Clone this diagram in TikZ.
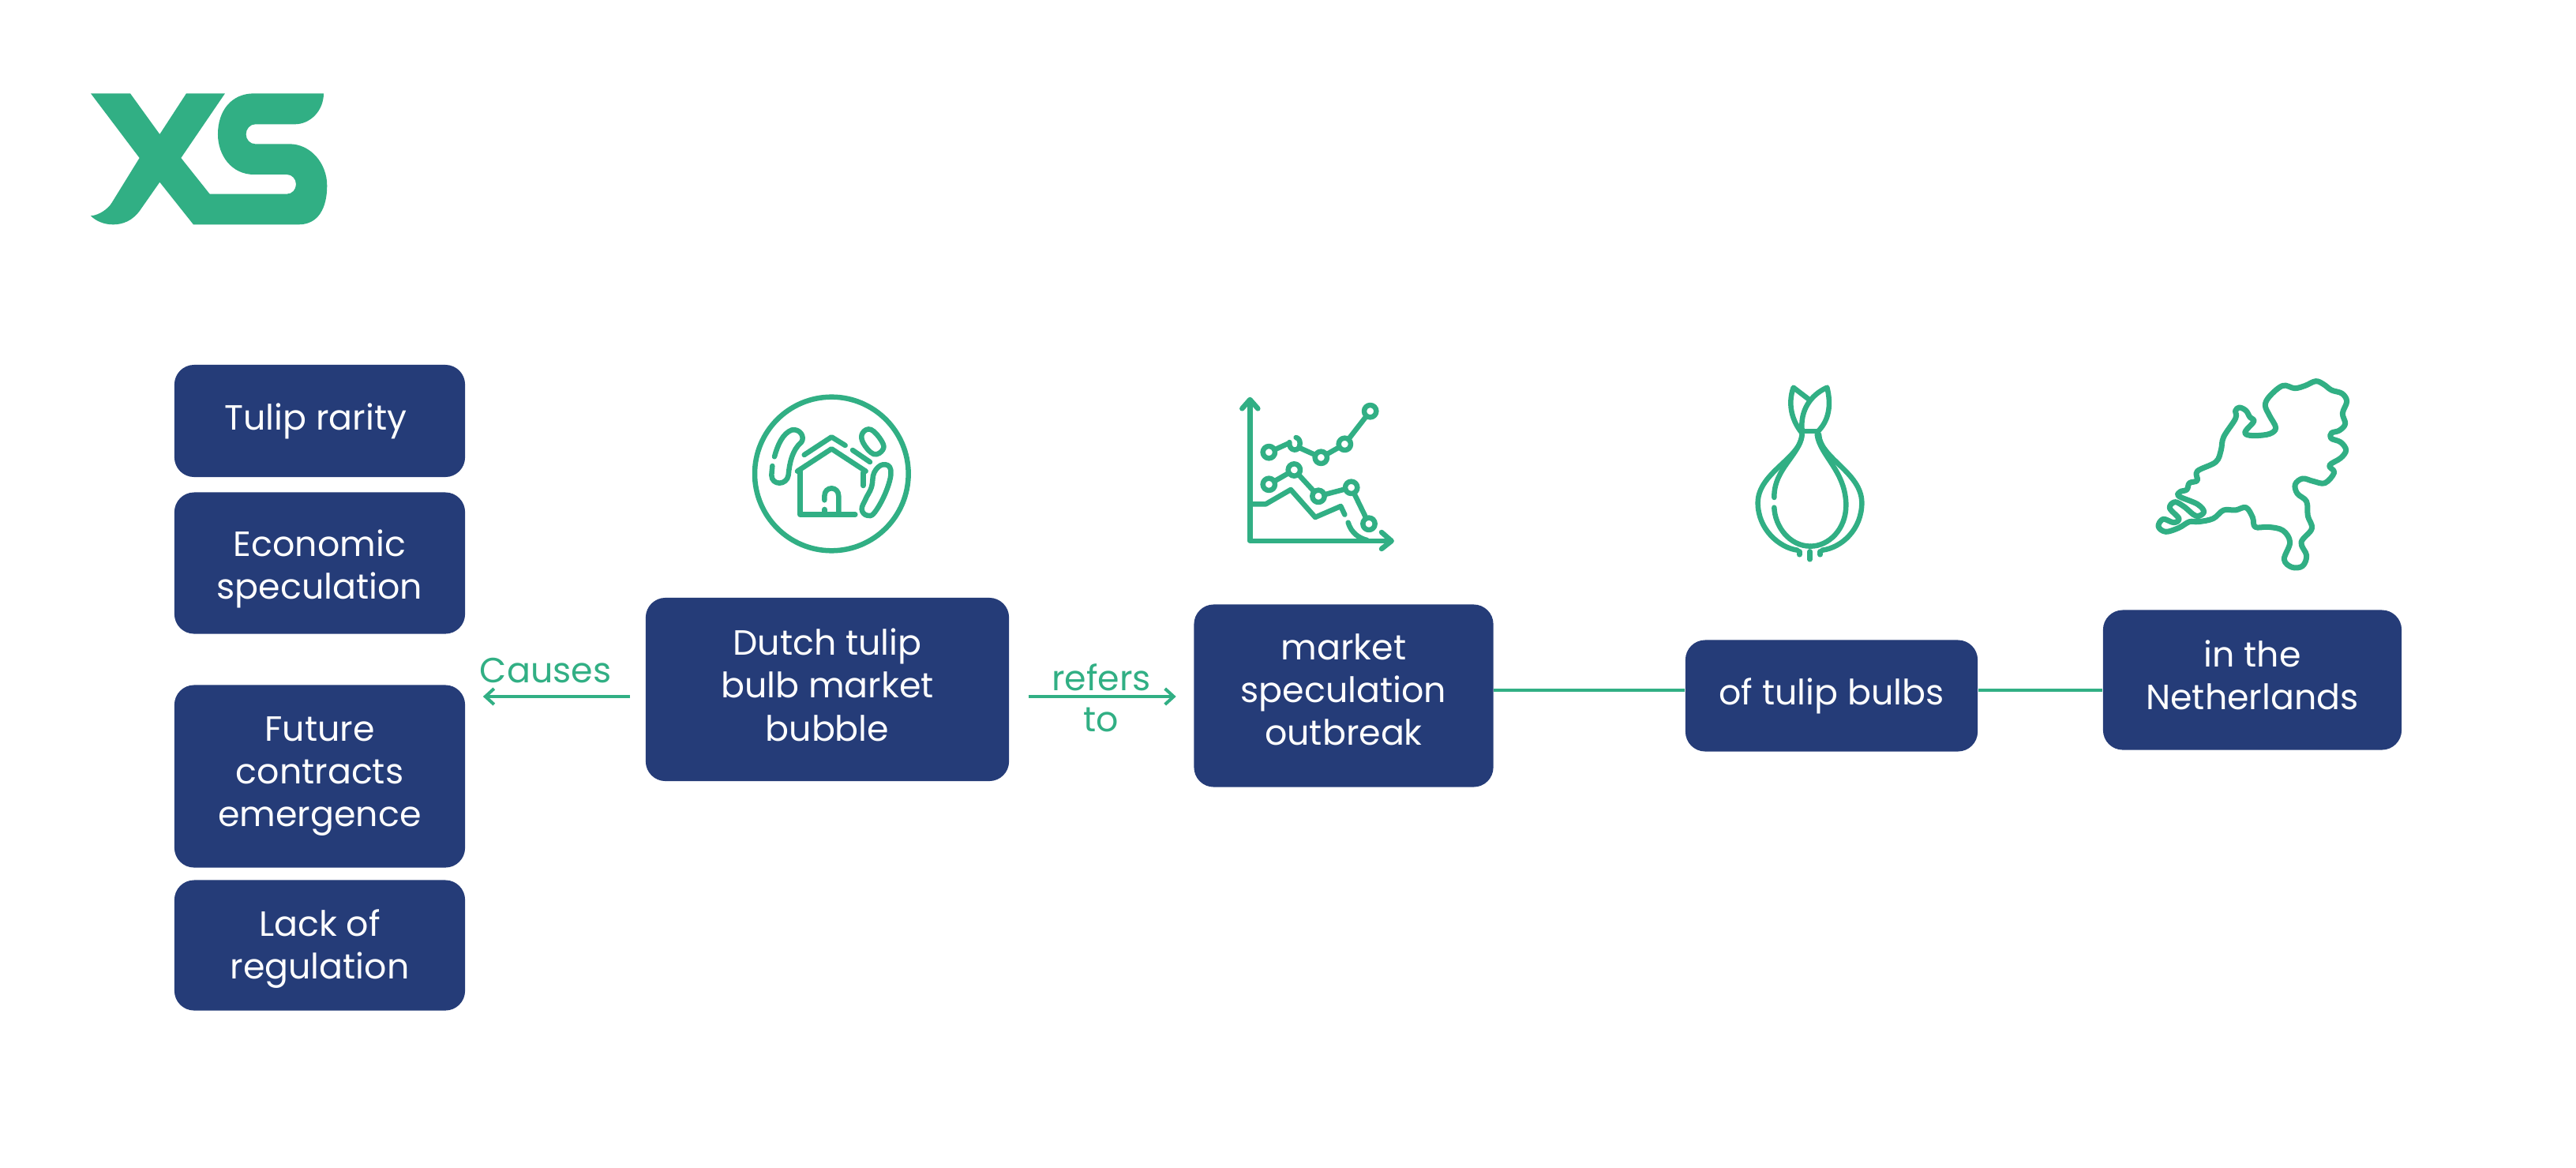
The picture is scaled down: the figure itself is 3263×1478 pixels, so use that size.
\documentclass[tikz,border=0pt]{standalone}
\usepackage{fontspec}
\setmainfont{Poppins}
\usepackage{tikz}
\usetikzlibrary{arrows.meta}
\definecolor{xsgreen}{HTML}{31AF84}
\definecolor{xsnavy}{HTML}{253C78}
\newcommand{\padtop}[1]{\rule{0pt}{#1}}
\newcommand{\padbot}[1]{\rule[-#1]{0pt}{0pt}}
\tikzset{
  navybox/.style={fill=xsnavy, text=white, rounded corners=0.25cm, align=center, inner sep=0pt, minimum width=#1, font=\fontsize{12.6}{15.4}\selectfont},
  greentext/.style={text=xsgreen, align=center, inner sep=0pt, font=\fontsize{12.6}{14.8}\selectfont},
  link/.style={draw=xsgreen, line width=0.04cm},
  flow/.style={link, -{Straight Barb[length=0.11cm,width=0.2cm]}},
  iconline/.style={draw=xsgreen, line width=0.065cm, line cap=round, line join=round}
}

\begin{document}
\begin{tikzpicture}[x=0.01cm, y=-0.01cm]
    \useasboundingbox[fill=white] (0,0) rectangle (3263,1478);

    % logo
    \begin{scope}[shift={(80,80)}, scale=0.3333]
        \fill[xsgreen] (105,115) -- (255,115) -- (367,270) -- (468,115) -- (615,115) -- (448,360) -- (557,497) -- (850,497)
            .. controls (870,497) and (885,480) .. (885,460) .. controls (885,440) and (870,423) .. (850,423) -- (725,423)
            .. controls (640,423) and (588,350) .. (588,270) .. controls (588,180) and (640,115) .. (725,115) -- (990,115)
            .. controls (990,180) and (940,232) .. (880,232) -- (730,232) .. controls (710,232) and (695,250) .. (695,270)
            .. controls (695,290) and (710,307) .. (730,307) -- (860,307) .. controls (940,307) and (1003,380) .. (1003,465)
            .. controls (1003,550) and (970,613) .. (895,613) -- (495,613) -- (367,452) -- (295,555)
            .. controls (265,600) and (225,613) .. (190,613) .. controls (155,613) and (125,600) .. (105,580)
            .. controls (135,578) and (170,555) .. (185,530) -- (290,360) -- cycle;
    \end{scope}

    % boxes
    \node[navybox=3.68cm, minimum height=1.42cm] (tulip) at (405,533) {Tulip rarity\hspace*{0.1cm}};
    \node[navybox=3.68cm, minimum height=1.79cm] (econ) at (405,713) {\padtop{0.49cm}Economic\\speculation};
    \node[navybox=3.68cm, minimum height=2.31cm] (future) at (405,983) {Future\\contracts\\emergence};
    \node[navybox=3.68cm, minimum height=1.65cm] (lack) at (405,1197) {\padtop{0.43cm}Lack of\\regulation};
    \node[navybox=4.6cm, minimum height=2.32cm] (dutch) at (1048,873) {Dutch tulip\\bulb market\\bubble\padbot{0.12cm}};
    \node[navybox=3.79cm, minimum height=2.31cm] (market) at (1702,881) {market\\speculation\\outbreak\padbot{0.16cm}};
    \node[navybox=3.7cm, minimum height=1.41cm] (bulbs) at (2320,881) {of tulip bulbs};
    \node[navybox=3.78cm, minimum height=1.77cm] (nether) at (2853,861) {in the\\Netherlands\padbot{0.12cm}};

    % connectors
    \coordinate (flowlevel) at (0,882);
    \coordinate (linelevel) at (0,874);
    \node[greentext] (causes) at (691,849) {Causes};
    \node[greentext] (refers) at (1395,884) {refers\\to};
    \draw[flow, shorten <=0.19cm, shorten >=0.22cm] (dutch.west |- flowlevel) -- (future.east |- flowlevel);
    \draw[flow, shorten <=0.24cm, shorten >=0.22cm] (dutch.east |- flowlevel) -- (market.west |- flowlevel);
    \draw[link] (market.east |- linelevel) -- (bulbs.west |- linelevel);
    \draw[link] (bulbs.east |- linelevel) -- (nether.west |- linelevel);

    % house icon
    \begin{scope}[shift={(920,470)}, scale=0.3333]
        \draw[iconline] (400,390) circle (292);
        \draw[iconline] (270,380) -- (400,295) -- (530,380);
        \draw[iconline] (280,380) -- (280,545) -- (490,545);
        \draw[iconline] (520,385) -- (520,435);
        \draw[iconline] (373,490) -- (373,475) .. controls (373,435) and (427,435) .. (427,475) -- (427,545);
        \draw[iconline] (373,525) -- (373,545);
        \draw[iconline] (296,318) -- (400,250) -- (452,282);
        \draw[iconline] (480,300) -- (546,345);
        \draw[iconline] (183,325) .. controls (195,280) and (215,235) .. (250,223) .. controls (280,218) and (300,250) .. (285,270) .. controls (250,300) and (240,350) .. (236,395) .. controls (230,435) and (172,435) .. (172,395) -- (175,360);
        \draw[iconline] plot[smooth cycle, tension=0.7] coordinates {(518,235) (550,222) (590,265) (595,298) (560,315) (520,272)};
        \draw[iconline] plot[smooth cycle, tension=0.7] coordinates {(595,355) (625,375) (610,450) (565,535) (535,548) (515,525) (530,485) (552,440) (562,385)};
    \end{scope}

    % chart icon
    \begin{scope}[shift={(1530,480)}, scale=0.3333]
        \draw[iconline] (160,80) -- (160,615) -- (695,615);
        \draw[iconline] (130,112) -- (160,78) -- (190,112);
        \draw[iconline] (660,582) -- (698,615) -- (660,645);
        \draw[iconline] (232,278) -- (305,245);
        \draw[iconline] (310,240) .. controls (305,275) and (350,280) .. (350,245) .. controls (350,232) and (345,225) .. (335,222);
        \draw[iconline] (350,262) -- (430,298) -- (520,247) -- (617,122);
        \draw[iconline] (232,400) -- (328,345) -- (420,445) -- (545,412) -- (612,550);
        \draw[iconline] (165,475) -- (220,475) -- (315,420) -- (408,525) -- (505,483) -- (520,515);
        \draw[iconline] (533,545) .. controls (545,585) and (575,605) .. (605,612);
        \foreach \pt in {(232,278), (430,298), (520,247), (617,122), (232,400), (328,345), (420,445), (545,412), (612,550)}
            \draw[iconline, fill=white] \pt circle (23);
    \end{scope}

    % bulb icon
    \begin{scope}[shift={(2180,470)}, scale=0.3333]
        \draw[iconline] (308,240) .. controls (305,330) and (140,385) .. (140,500) .. controls (140,600) and (220,670) .. (290,680);
        \draw[iconline] (372,240) .. controls (375,330) and (535,385) .. (535,500) .. controls (535,600) and (460,670) .. (385,680);
        \draw[iconline] (308,240) .. controls (300,320) and (200,370) .. (202,480);
        \draw[iconline] (202,518) .. controls (205,590) and (260,665) .. (340,665);
        \draw[iconline] (365,240) .. controls (375,320) and (475,380) .. (475,510) .. controls (475,600) and (410,665) .. (340,665);
        \draw[iconline] (318,228) -- (365,228);
        \draw[iconline] (308,225) .. controls (300,150) and (340,90) .. (403,62) .. controls (420,130) and (410,190) .. (365,232);
        \draw[iconline] (335,108) -- (275,62) .. controls (255,120) and (265,180) .. (305,232);
        \draw[iconline] (298,685) -- (298,697);
        \draw[iconline] (338,685) -- (338,715);
        \draw[iconline] (377,685) -- (377,697);
    \end{scope}

    % map icon
    \begin{scope}[shift={(2710,470)}, scale=0.3333]
        \draw[iconline, line width=0.07cm] plot[smooth cycle, tension=0.6] coordinates {(380,138) (405,150) (420,175) (435,190) (405,225) (405,240) (440,245) (495,238) (518,215) (495,170) (478,130) (495,95) (545,55) (590,65) (630,55) (670,38) (700,50) (730,72) (770,85) (788,115) (772,160) (782,200) (760,225) (730,235) (728,255) (765,270) (785,300) (765,330) (722,358) (740,385) (705,425) (660,418) (620,408) (592,430) (600,465) (635,495) (640,550) (655,598) (615,650) (635,700) (620,740) (580,745) (550,715) (572,650) (545,605) (490,592) (440,592) (430,555) (405,518) (365,528) (320,528) (280,560) (225,572) (190,572) (150,595) (100,610) (72,590) (90,562) (130,575) (150,560) (115,520) (135,497) (170,515) (215,550) (245,535) (220,505) (150,475) (155,458) (180,450) (190,425) (220,415) (220,380) (290,345) (310,300) (320,250) (365,180) (365,150)};
    \end{scope}
\end{tikzpicture}
\end{document}
